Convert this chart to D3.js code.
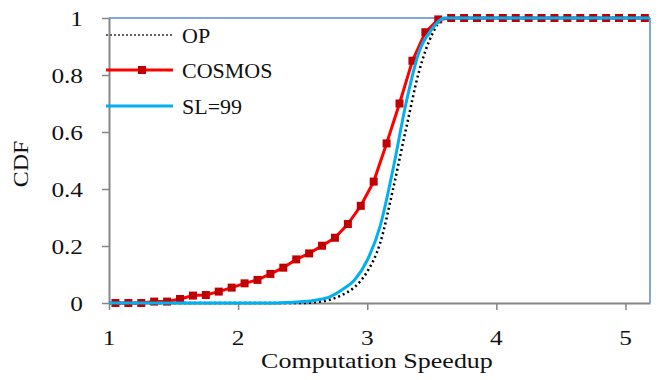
<!DOCTYPE html>
<html>
<head>
<meta charset="utf-8">
<script src="https://cdn.jsdelivr.net/npm/d3@7"></script>
<style>
  html, body { margin: 0; padding: 0; background: #fff; }
  svg { display: block; }
  text { font-family: "Liberation Serif", "Times New Roman", serif; fill: #111; }
</style>
</head>
<body>
<svg id="chart" width="664" height="380"></svg>
<script>
// ---- data ----
const xTicks = [1, 2, 3, 4, 5];
const yTicks = [0, 0.2, 0.4, 0.6, 0.8, 1];
const yTickLabels = ["0", "0.2", "0.4", "0.6", "0.8", "1"];
const xTitle = "Computation Speedup";
const yTitle = "CDF";
const seriesNames = ["OP", "COSMOS", "SL=99"];

const cosmosX = [1.05, 1.15, 1.25, 1.35, 1.45, 1.55, 1.65, 1.75, 1.85, 1.95,
                 2.05, 2.15, 2.25, 2.35, 2.45, 2.55, 2.65, 2.75, 2.85, 2.95,
                 3.05, 3.15, 3.25, 3.35, 3.45, 3.55, 3.65, 3.75, 3.85, 3.95,
                 4.05, 4.15, 4.25, 4.35, 4.45, 4.55, 4.65, 4.75, 4.85, 4.95,
                 5.05, 5.15];
const cosmosY = [0, 0, 0, 0.005, 0.005, 0.014, 0.026, 0.028, 0.04, 0.054,
                 0.069, 0.081, 0.102, 0.124, 0.153, 0.174, 0.201, 0.229, 0.277, 0.341,
                 0.426, 0.56, 0.70, 0.85, 0.95, 0.995, 1, 1, 1, 1,
                 1, 1, 1, 1, 1, 1, 1, 1, 1, 1,
                 1, 1];

const curveX = [1.0, 2.0, 2.3, 2.4, 2.5, 2.6, 2.7, 2.8, 2.9, 3.0, 3.1, 3.2, 3.3, 3.4, 3.5, 3.6, 5.19];
const slY    = [0, 0, 0, 0.002, 0.005, 0.01, 0.02, 0.045, 0.08, 0.15, 0.27, 0.47, 0.70, 0.88, 0.96, 1.0, 1.0];
const opY    = [0, 0, 0, 0, 0, 0.003, 0.01, 0.027, 0.055, 0.11, 0.21, 0.40, 0.61, 0.81, 0.94, 1.0, 1.0];

// ---- drawing ----
const svg = d3.select("#chart");
const x = d3.scaleLinear().domain([1, 5.19]).range([109, 650]);
const y = d3.scaleLinear().domain([0, 1]).range([303, 18]);

const gridCol = "#868686";
const frameCol = "#7fa6dd";

// frame top/right
svg.append("line").attr("x1", x(1)).attr("x2", x(5.19)).attr("y1", y(1)).attr("y2", y(1))
  .attr("stroke", frameCol).attr("stroke-width", 2);
svg.append("line").attr("x1", x(5.19)).attr("x2", x(5.19)).attr("y1", y(1)).attr("y2", y(0))
  .attr("stroke", frameCol).attr("stroke-width", 2);

// axes
const yAxis = d3.axisLeft(y).tickValues(yTicks).tickSize(7).tickSizeOuter(0).tickFormat((d, i) => "");
const xAxis = d3.axisBottom(x).tickValues(xTicks).tickSize(7).tickSizeOuter(0).tickFormat(() => "");
const gy = svg.append("g").attr("transform", `translate(${x(1)},0)`).call(yAxis);
const gx = svg.append("g").attr("transform", `translate(0,${y(0)})`).call(xAxis);
[gy, gx].forEach(g => {
  g.selectAll("path").attr("stroke", gridCol).attr("stroke-width", 2);
  g.selectAll("line").attr("stroke", gridCol).attr("stroke-width", 1.5);
});

// tick labels (wide serif)
const tickFont = 22, tickStretch = 1.15;
yTicks.forEach((v, i) => {
  svg.append("text")
    .attr("transform", `translate(83,${y(v) + 7.5}) scale(${tickStretch},1)`)
    .attr("text-anchor", "end").attr("font-size", tickFont)
    .text(yTickLabels[i]);
});
xTicks.forEach(v => {
  svg.append("text")
    .attr("transform", `translate(${x(v)},345) scale(${tickStretch},1)`)
    .attr("text-anchor", "middle").attr("font-size", tickFont)
    .text(String(v));
});

// axis titles
svg.append("text")
  .attr("transform", `translate(377,368) scale(1.3,1)`)
  .attr("text-anchor", "middle").attr("font-size", 20)
  .text(xTitle);
svg.append("text")
  .attr("transform", `translate(28,164) rotate(-90) scale(1.2,1)`)
  .attr("text-anchor", "middle").attr("font-size", 20)
  .text(yTitle);

// series
const lineGen = d3.line().x(d => x(d[0])).y(d => y(d[1]));
const smooth = d3.line().x(d => x(d[0])).y(d => y(d[1])).curve(d3.curveMonotoneX);

const cosmosPts = cosmosX.map((v, i) => [v, cosmosY[i]]);
const slPts = curveX.map((v, i) => [v, slY[i]]);
const opPts = curveX.map((v, i) => [v, opY[i]]);

svg.append("path").datum(cosmosPts).attr("d", lineGen)
  .attr("fill", "none").attr("stroke", "#ff0000").attr("stroke-width", 3);
svg.append("g").selectAll("rect").data(cosmosPts).join("rect")
  .attr("x", d => x(d[0]) - 4).attr("y", d => y(d[1]) - 4)
  .attr("width", 8).attr("height", 8).attr("fill", "#c00000");
svg.append("path").datum(opPts).attr("d", smooth)
  .attr("fill", "none").attr("stroke", "#000").attr("stroke-width", 2.5)
  .attr("stroke-dasharray", "2,3");
svg.append("path").datum(slPts).attr("d", smooth)
  .attr("fill", "none").attr("stroke", "#00b0f0").attr("stroke-width", 3);

// legend
const legY = [35, 70, 106];
const lx1 = 106, lx2 = 173, ltx = 182;
// OP
svg.append("line").attr("x1", lx1).attr("x2", lx2).attr("y1", legY[0]).attr("y2", legY[0])
  .attr("stroke", "#333").attr("stroke-width", 1.5).attr("stroke-dasharray", "2,2");
// COSMOS
svg.append("line").attr("x1", lx1).attr("x2", lx2).attr("y1", legY[1]).attr("y2", legY[1])
  .attr("stroke", "#ff0000").attr("stroke-width", 3);
svg.append("rect").attr("x", 142 - 4).attr("y", legY[1] - 4).attr("width", 8).attr("height", 8)
  .attr("fill", "#c00000");
// SL=99
svg.append("line").attr("x1", lx1).attr("x2", lx2).attr("y1", legY[2]).attr("y2", legY[2])
  .attr("stroke", "#00b0f0").attr("stroke-width", 3);
seriesNames.forEach((n, i) => {
  svg.append("text").attr("x", ltx).attr("y", legY[i] + 7.5)
    .attr("font-size", 22).text(n);
});
</script>
</body>
</html>
